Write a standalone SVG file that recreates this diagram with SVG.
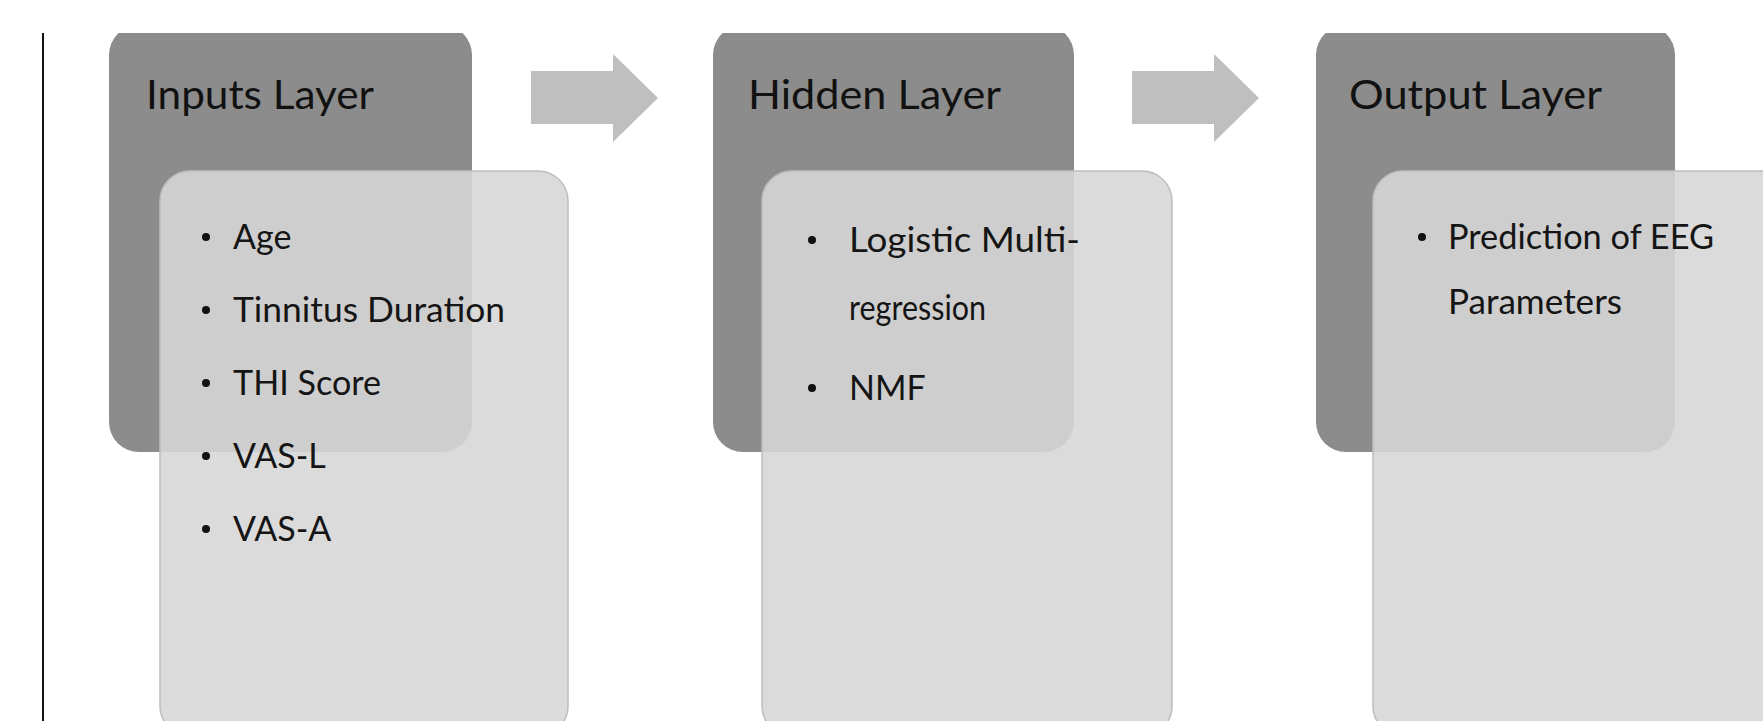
<svg xmlns="http://www.w3.org/2000/svg" width="1763" height="721" viewBox="0 0 1763 721">
<defs>
<style>
.dark{fill:#8c8c8c;}
.light{fill:#d7d7d7;fill-opacity:0.89;stroke:#bdbdbd;stroke-width:1.5;}
.arrow{fill:#bfbfbf;}
.title{font-family:Lato,"Open Sans",sans-serif;font-size:40px;fill:#111111;}
.item{font-family:Lato,"Open Sans",sans-serif;font-size:34px;fill:#151515;}
.dot{fill:#111111;}
</style>
<clipPath id="cut"><rect x="0" y="33" width="1763" height="688"/></clipPath>
</defs>
<rect width="1763" height="721" fill="#ffffff"/>
<g clip-path="url(#cut)">
<line x1="43" y1="33" x2="43" y2="721" stroke="#111" stroke-width="2"/>
<g id="connectors">
<polygon class="arrow" points="531,71 613,71 613,54 658,98 613,142 613,124 531,124"/>
<polygon class="arrow" points="1132,71 1214,71 1214,54 1259,98 1214,142 1214,124 1132,124"/>
</g>
<g id="inputs">
<rect class="dark" x="109" y="25" width="363" height="427" rx="30"/>
<text class="title" x="146" y="109" textLength="228" lengthAdjust="spacingAndGlyphs">Inputs Layer</text>
<rect class="light" x="160" y="171" width="408" height="565" rx="30"/>
<circle class="dot" cx="206" cy="237" r="4"/>
<text class="item" x="233" y="249">Age</text>
<circle class="dot" cx="206" cy="310" r="4"/>
<text class="item" x="233" y="322" textLength="272" lengthAdjust="spacingAndGlyphs">Tinnitus Duration</text>
<circle class="dot" cx="206" cy="383" r="4"/>
<text class="item" x="233" y="395" textLength="148" lengthAdjust="spacingAndGlyphs">THI Score</text>
<circle class="dot" cx="206" cy="456" r="4"/>
<text class="item" x="233" y="468">VAS-L</text>
<circle class="dot" cx="206" cy="529" r="4"/>
<text class="item" x="233" y="541">VAS-A</text>
</g>
<g id="hidden">
<rect class="dark" x="713" y="25" width="361" height="427" rx="30"/>
<text class="title" x="748" y="109" textLength="253" lengthAdjust="spacingAndGlyphs">Hidden Layer</text>
<rect class="light" x="762" y="171" width="410" height="565" rx="30"/>
<circle class="dot" cx="812" cy="240" r="4"/>
<text class="item" x="849" y="252" textLength="231" lengthAdjust="spacingAndGlyphs">Logistic Multi-</text>
<text class="item" x="849" y="320" textLength="137" lengthAdjust="spacingAndGlyphs">regression</text>
<circle class="dot" cx="812" cy="388" r="4"/>
<text class="item" x="849" y="400">NMF</text>
</g>
<g id="output">
<rect class="dark" x="1316" y="25" width="359" height="427" rx="30"/>
<text class="title" x="1349" y="109" textLength="253" lengthAdjust="spacingAndGlyphs">Output Layer</text>
<rect class="light" x="1373" y="171" width="420" height="565" rx="30"/>
<circle class="dot" cx="1422" cy="237" r="4"/>
<text class="item" x="1448" y="249" textLength="266" lengthAdjust="spacingAndGlyphs">Prediction of EEG</text>
<text class="item" x="1448" y="314" textLength="174" lengthAdjust="spacingAndGlyphs">Parameters</text>
</g>
</g>
</svg>
